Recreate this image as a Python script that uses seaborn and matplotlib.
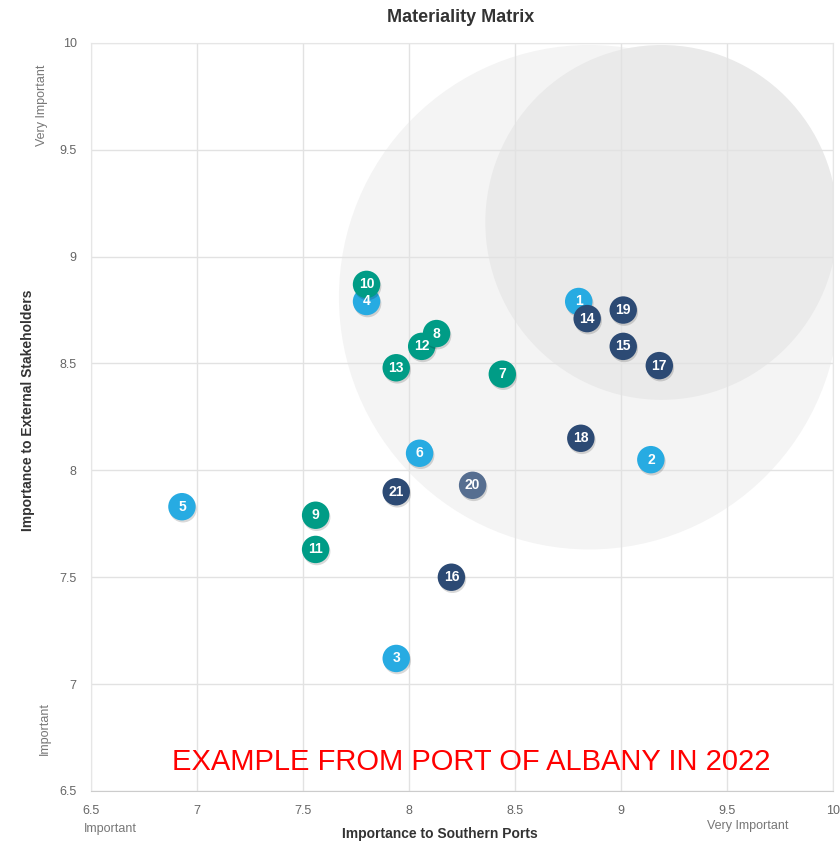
import matplotlib
matplotlib.use("Agg")
import matplotlib.pyplot as plt
import matplotlib.patheffects as pe
from matplotlib.patches import Ellipse
import pandas as pd
import seaborn as sns

# Issue numbers, grouped by series (draw order inside each group)
blue_ids = [1, 2, 3, 4, 5, 6]
blue_x = [8.80, 9.14, 7.94, 7.80, 6.93, 8.05]
blue_y = [8.79, 8.05, 7.12, 8.79, 7.83, 8.08]

teal_ids = [7, 9, 10, 11, 12, 13, 8]
teal_x = [8.44, 7.56, 7.80, 7.56, 8.06, 7.94, 8.13]
teal_y = [8.45, 7.79, 8.87, 7.63, 8.58, 8.48, 8.64]

navy_ids = [14, 15, 16, 17, 18, 19, 21]
navy_x = [8.84, 9.01, 8.20, 9.18, 8.81, 9.01, 7.94]
navy_y = [8.71, 8.58, 7.50, 8.49, 8.15, 8.75, 7.90]

slate_ids = [20]
slate_x = [8.30]
slate_y = [7.93]

# Background priority zones (centre x, centre y, radius)
outer_zone = (8.85, 8.81, 1.18)
inner_zone = (9.19, 9.16, 0.83)

ticks = [6.5, 7, 7.5, 8, 8.5, 9, 9.5, 10]
tick_labels = ["6.5", "7", "7.5", "8", "8.5", "9", "9.5", "10"]

frames = []
for ids, xs, ys, grp in [(blue_ids, blue_x, blue_y, "blue"),
                         (teal_ids, teal_x, teal_y, "teal"),
                         (navy_ids, navy_x, navy_y, "navy"),
                         (slate_ids, slate_x, slate_y, "slate")]:
    frames.append(pd.DataFrame({"id": ids, "x": xs, "y": ys, "group": grp}))
df = pd.concat(frames, ignore_index=True)

palette = {"blue": "#27ABE2", "teal": "#009C86",
           "navy": "#2C4A74", "slate": "#566E90"}

sns.set_style("white")
plt.rcParams["font.family"] = ["Liberation Sans", "DejaVu Sans"]

fig = plt.figure(figsize=(8.4, 8.42), dpi=100)
ax = fig.add_axes([0.108, 0.0606, 0.884, 0.8885])

# zones
cx, cy, r = outer_zone
ax.add_patch(Ellipse((cx, cy), 2 * r, 2 * r, color="#F4F4F4", zorder=0, lw=0))
cx, cy, r = inner_zone
ax.add_patch(Ellipse((cx, cy), 2 * r, 2 * r, color="#EAEAEA", zorder=0.5, lw=0))

ax.set_xlim(6.5, 10)
ax.set_ylim(6.5, 10)
ax.set_xticks(ticks)
ax.set_yticks(ticks)
ax.set_xticklabels(tick_labels)
ax.set_yticklabels(tick_labels)
ax.grid(True, color="#E2E2E2", lw=1, zorder=1)
ax.set_axisbelow(True)
for s in ["top", "right", "left"]:
    ax.spines[s].set_color("#E6E6E6")
ax.spines["bottom"].set_color("#CCCCCC")
ax.tick_params(axis="both", length=0, labelsize=9, colors="#666666")
ax.tick_params(axis="x", pad=10)
ax.tick_params(axis="y", pad=10)

shadow = [pe.SimplePatchShadow(offset=(0.8, -1.5), shadow_rgbFace="#000000", alpha=0.15),
          pe.Normal()]
for grp in ["blue", "teal", "navy", "slate"]:
    sub = df[df["group"] == grp]
    for _, row in sub.iterrows():
        pts = ax.scatter(row["x"], row["y"], s=390, color=palette[grp],
                         edgecolor="none", zorder=3)
        pts.set_path_effects(shadow)
        ax.text(row["x"], row["y"], str(row["id"]), color="white",
                fontsize=10, fontweight="bold", ha="center", va="center", zorder=4)

ax.set_xlabel("")
ax.set_ylabel("")

fig.text(0.548, 0.979, "Materiality Matrix", ha="center", va="center",
         fontsize=13, fontweight="bold", color="#333333")
fig.text(0.033, 0.513, "Importance to External Stakeholders", rotation=90,
         ha="center", va="center", fontsize=10, fontweight="bold", color="#333333")
fig.text(0.524, 0.009, "Importance to Southern Ports", ha="center", va="center",
         fontsize=10, fontweight="bold", color="#333333")
fig.text(0.050, 0.875, "Very Important", rotation=90, ha="center", va="center",
         fontsize=9, color="#777777")
fig.text(0.054, 0.135, "Important", rotation=90, ha="center", va="center",
         fontsize=9, color="#777777")
fig.text(0.131, 0.016, "Important", ha="center", va="center",
         fontsize=9, color="#777777")
fig.text(0.890, 0.019, "Very Important", ha="center", va="center",
         fontsize=9, color="#777777")
fig.text(0.561, 0.095, "EXAMPLE FROM PORT OF ALBANY IN 2022", ha="center",
         va="center", fontsize=21, color="#FF0000")

fig.savefig("out.png", dpi=100)
